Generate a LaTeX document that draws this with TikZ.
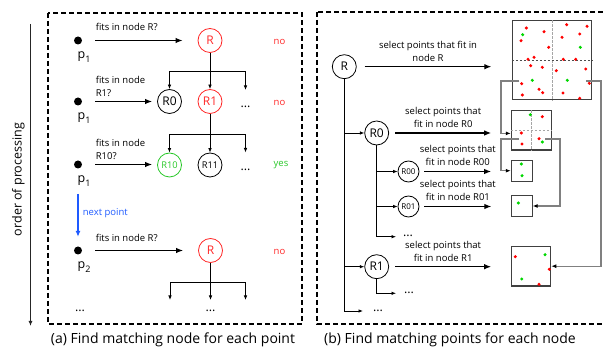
\documentclass[tikz,border=0pt]{standalone}
\usepackage{fontspec}
\setmainfont{Open Sans}
\usepackage{tikz}
\usetikzlibrary{shapes,arrows,arrows.meta,positioning,calc}

\definecolor{nodered}{RGB}{255,40,40}
\definecolor{nodegreen}{RGB}{40,200,40}
\definecolor{ptred}{RGB}{255,0,0}
\definecolor{ptgreen}{RGB}{0,215,0}
\definecolor{nextblue}{RGB}{30,90,255}

\newcommand{\ptsub}[1]{\raisebox{-0.55ex}{\fontsize{9}{9}\selectfont #1}}

\tikzstyle{tnode} = [draw, circle, minimum size=24pt, inner sep=0pt, line width=0.8pt, font=\fontsize{12}{12}\selectfont]
\tikzstyle{mnode} = [draw, circle, minimum size=24pt, inner sep=0pt, line width=0.8pt, font=\fontsize{9.3}{9}\selectfont]
\tikzstyle{snode} = [draw, circle, minimum size=21pt, inner sep=0pt, line width=0.8pt, font=\fontsize{8}{8}\selectfont]
\tikzstyle{pdot} = [fill, circle, minimum size=8pt, inner sep=0pt]
\tikzstyle{plab} = [anchor=base west, inner sep=0pt, font=\fontsize{12.5}{12}\selectfont]
\tikzstyle{txt} = [inner sep=0pt, font=\fontsize{9.5}{13}\selectfont]
\tikzstyle{more} = [inner sep=0pt, font=\fontsize{12.5}{12}\selectfont]
\tikzstyle{capt} = [anchor=base, inner sep=0pt, font=\fontsize{14}{14}\selectfont]
\tikzstyle{query} = [-{Latex[length=7pt,width=5.5pt]}, line width=1.2pt]
\tikzstyle{branch} = [-{Latex[length=4.5pt,width=3.6pt]}, line width=0.8pt]
\tikzstyle{feed} = [-{Latex[black,length=5pt,width=4pt]}, draw=black!50, line width=1.3pt]
\tikzstyle{qbox} = [draw=black!75, line width=1.1pt, rectangle, inner sep=0pt]
\tikzstyle{quadlight} = [draw=black!35, line width=0.9pt, dash pattern=on 2.5pt off 1.5pt]
\tikzstyle{quaddark} = [draw=black!70, line width=0.6pt, dash pattern=on 2.5pt off 1.5pt]
\tikzstyle{panel} = [line width=1.1pt, dash pattern=on 5pt off 3pt]

\begin{document}
\begin{tikzpicture}[x=1pt, y=-1pt, node distance=40.5pt]
    \useasboundingbox (0,0) rectangle (603,347);

    % Panels
    \draw[panel] (48,13) rectangle (302,324);
    \draw[panel] (317,12) rectangle (604,324);

    % Order of processing
    \coordinate (otop) at (30.5,24);
    \coordinate (obot) at (30.5,326);
    \draw[-{Latex[length=5pt,width=4pt]}, line width=1.2pt, black!85] (otop) -- (obot);
    \node[rotate=90, anchor=base, inner sep=0pt, font=\fontsize{12.5}{12.5}\selectfont] (order) at (21.5,179.5) {order of processing};

    % (a) first point, root
    \node[pdot] (d1) at (78,40.5) {};
    \node[plab] (p1) at ([xshift=-0.5pt,yshift=-18.5pt]d1.center) {p\ptsub{1}};
    \node[tnode, nodered] (Ra) at (210,40.5) {R};
    \node[txt, nodered] (noa) at (279.5,42.3) {no};
    \draw[query] ([xshift=13pt]d1.east) -- node[txt, pos=0, anchor=south west, yshift=9pt] {fits in node R?} ([xshift=-15pt]Ra.west);

    % (a) first point, level 1
    \node[pdot] (d2) at (78,101.5) {};
    \node[plab] (p2) at ([xshift=-0.5pt,yshift=-18.5pt]d2.center) {p\ptsub{1}};
    \node[tnode] (R0a) at (169.5,101.5) {R0};
    \node[tnode, nodered, right of=R0a] (R1a) {R1};
    \node[more] (moa) at (245.5,106.5) {...};
    \node[txt, nodered] (nob) at (279.5,103.3) {no};
    \draw[query] ([xshift=13pt]d2.east) -- node[txt, pos=0, anchor=south west, yshift=4.5pt, align=left] {fits in node\\R1?} ([xshift=-5pt]R0a.west);

    \coordinate (ja) at (210,71);
    \coordinate (ea) at (245.5,90);
    \draw[branch] (Ra) -- (R1a);
    \draw[branch] (ja) -| (R0a);
    \draw[branch] (ja) -| (ea);

    % (a) first point, level 2
    \node[pdot] (d3) at (78,164.5) {};
    \node[plab] (p3) at ([xshift=-0.5pt,yshift=-18.5pt]d3.center) {p\ptsub{1}};
    \node[mnode, nodegreen] (R10a) at (169.5,165) {R10};
    \node[mnode, right of=R10a] (R11a) {R11};
    \node[more] (mob) at (245.5,170) {...};
    \node[txt, nodegreen] (yesa) at (281,165.5) {yes};
    \draw[query] ([xshift=13pt]d3.east) -- node[txt, pos=0, anchor=south west, yshift=4.5pt, align=left] {fits in node\\R10?} ([xshift=-5pt]d3 -| R10a.west);

    \coordinate (jb) at (210,134);
    \coordinate (eb) at (245.5,152.5);
    \draw[branch] (R1a) -- (R11a);
    \draw[branch] (jb) -| (R10a);
    \draw[branch] (jb) -| (eb);

    % (a) next point
    \coordinate (nx) at (78,194);
    \node[pdot] (d4) at (78,250.5) {};
    \draw[-{Latex[length=6pt,width=5pt]}, nextblue, line width=1.2pt] (nx) -- node[txt, anchor=west, xshift=4.3pt, yshift=2pt] {next point} ([yshift=9.5pt]d4.north);
    \node[plab] (p4) at ([xshift=-0.5pt,yshift=-18pt]d4.center) {p\ptsub{2}};
    \node[tnode, nodered] (Rc) at (210.5,250.5) {R};
    \node[txt, nodered] (noc) at (279.5,251.7) {no};
    \draw[query] ([xshift=13pt]d4.east) -- node[txt, pos=0, anchor=south west, yshift=8.5pt] {fits in node R?} ([xshift=-15pt]Rc.west);

    \coordinate (jc) at (210.5,282.7);
    \coordinate (ec1) at (170,300);
    \coordinate (ec2) at (210.5,300);
    \coordinate (ec3) at (245.5,300);
    \draw[branch] (Rc) -- (ec2);
    \draw[branch] (jc) -| (ec1);
    \draw[branch] (jc) -| (ec3);
    \node[more] (moc) at (80,311) {...};
    \node[more] (mod) at (210.5,311) {...};

    % (b) nodes
    \node[tnode] (Rb) at (344.3,66.7) {R};
    \node[tnode] (R0b) at (376.7,133) {R0};
    \node[snode] (R00b) at (408.5,171.5) {R00};
    \node[snode] (R01b) at (408.5,206.5) {R01};
    \node[tnode] (R1b) at (376.7,266.7) {R1};

    % (b) point sets
    \node[qbox, minimum width=79pt, minimum height=79pt] (boxR) at (552,60.4) {};
    \node[qbox, minimum width=39.7pt, minimum height=39.3pt] (boxR0) at (531.2,130.4) {};
    \node[qbox, minimum size=21pt] (boxR00) at (521.8,170.7) {};
    \node[qbox, minimum size=20.6pt] (boxR01) at (521.8,206) {};
    \node[qbox, minimum width=39.4pt, minimum height=39.7pt] (boxR1) at (531,266.2) {};

    \draw[quadlight] (boxR.north) -- (boxR.south);
    \draw[quaddark] (boxR.west) -- (boxR.east);
    \draw[quadlight] (boxR0.north) -- (boxR0.south);
    \draw[quadlight] (boxR0.west) -- (boxR0.east);

    \foreach \x/\y in {526.3/28,544/31.7,566.7/24.7,587/26.3,521/40.7,562/37.3,579.7/34,548.7/47.3,
        528/59.3,534/57.3,563.3/59.3,575.7/59.3,530.7/65.7,542.3/67.3,556.3/70.7,585.7/69,
        521.7/83.7,539/89.3,542.7/92.7,563/93,589.3/83.3,522.3/95,579.7/98.3,
        542.3/116.7,521.3/133,539/138.7,522/144,
        515.3/256.7,549.3/269.3,539/284.3}
        \fill[ptred] (\x,\y) circle (1.7pt);
    \foreach \x/\y in {522.7/34.7,580.3/47.3,532.3/80.3,567.3/80.3,
        530.3/114.7,542.3/142,
        521.3/164,522/175.7,
        518.3/203,
        545/254.7,521.7/279}
        \fill[ptgreen] (\x,\y) circle (1.7pt);

    % (b) selections
    \draw[query] ([xshift=8pt]Rb.east) -- node[txt, above, yshift=5pt, align=center] {select points that fit in\\node R} ([xshift=-20.6pt]Rb -| boxR.west);
    \draw[query] ([xshift=6pt]R0b.east) -- node[txt, above, yshift=5pt, align=center] {select points that\\fit in node R0} ([xshift=-19.6pt]R0b -| boxR0.west);
    \draw[query] ([xshift=5pt]R00b.east) -- node[txt, above, yshift=5.5pt, align=center] {select points that\\fit in node R00} ([xshift=-19.6pt]R00b -| boxR00.west);
    \draw[query] ([xshift=5pt]R01b.east) -- node[txt, above, yshift=5.5pt, align=center] {select points that\\fit in node R01} ([xshift=-19.6pt]R01b -| boxR01.west);
    \draw[query] ([xshift=6pt]R1b.east) -- node[txt, above, yshift=5pt, align=center] {select points that\\fit in node R1} ([xshift=-19.6pt]R1b -| boxR1.west);

    % (b) tree
    \coordinate (endb) at (363,311);
    \coordinate (endc) at (396,236.7);
    \coordinate (endd) at (396,293.3);
    \draw[branch] (Rb) |- (R0b);
    \draw[branch] (Rb) |- (R1b);
    \draw[branch] (Rb) |- (endb);
    \draw[branch] (R0b) |- (R00b);
    \draw[branch] (R0b) |- (R01b);
    \draw[branch] (R0b) |- (endc);
    \draw[branch] (R1b) |- (endd);
    \node[more] (moe) at (378,310.5) {...};
    \node[more] (mof) at (408,236.2) {...};
    \node[more] (mog) at (409,292.8) {...};

    % (b) quadrants passed on
    \coordinate (qa) at (519.3,81);
    \coordinate (qb) at (586,81);
    \coordinate (qc) at (519,139);
    \coordinate (qd) at (545,139);
    \draw[feed] (qa) -- ++(-18.3,0) |- ([yshift=-3pt]boxR0.west);
    \draw[feed] (qb) -- ++(15,0) |- (boxR1.east);
    \draw[feed] (qc) -- ++(-18,0) |- (boxR00.west);
    \draw[feed] (qd) -- ++(15,0) |- (boxR01.east);

    % Captions
    \node[capt] (capa) at (173,343.3) {(a) Find matching node for each point};
    \node[capt] (capb) at (450,343.3) {(b) Find matching points for each node};
\end{tikzpicture}
\end{document}
